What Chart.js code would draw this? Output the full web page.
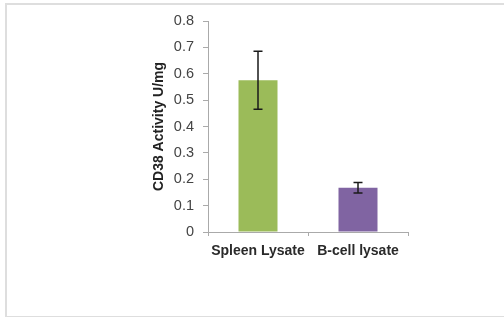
<!DOCTYPE html>
<html>
<head>
<meta charset="utf-8">
<script src="https://cdn.jsdelivr.net/npm/chart.js@4/dist/chart.umd.min.js"></script>
<style>
    html, body {margin: 0; padding: 0; background: #fff;}
    #wrap {position: relative; width: 504px; height: 317px; overflow: hidden;}
    #frame {position: absolute; left: 5px; top: 3px; width: 497px; height: 311px;
        border-left: 2px solid #dedede; border-top: 2px solid #dedede; border-bottom: 2px solid #dedede;}
    canvas {position: absolute; left: 0; top: 0;}
</style>
</head>
<body>
<div id="wrap">
    <div id="frame"></div>
    <canvas id="chart" width="504" height="317"></canvas>
</div>
<script>
// data
const categories = ['Spleen Lysate', 'B-cell lysate'];
const activity = [0.575, 0.168];
const errors = [0.11, 0.02];
const barColors = ['#9BBB59', '#8064A2'];
const yTicks = [0, 0.1, 0.2, 0.3, 0.4, 0.5, 0.6, 0.7, 0.8];

// draw the +/- error whiskers through the y scale
const errorBars = {
    id: 'errorBars',
    afterDatasetsDraw(chart) {
        const ctx = chart.ctx;
        const y = chart.scales.y;
        const meta = chart.getDatasetMeta(0);
        ctx.save();
        ctx.strokeStyle = '#1a1a1a';
        ctx.lineWidth = 1.5;
        meta.data.forEach((bar, i) => {
            const x = bar.x;
            const top = y.getPixelForValue(activity[i] + errors[i]);
            const bottom = y.getPixelForValue(activity[i] - errors[i]);
            ctx.beginPath();
            ctx.moveTo(x, top);
            ctx.lineTo(x, bottom);
            ctx.moveTo(x - 4.5, top);
            ctx.lineTo(x + 4.5, top);
            ctx.moveTo(x - 4.5, bottom);
            ctx.lineTo(x + 4.5, bottom);
            ctx.stroke();
        });
        ctx.restore();
    }
};

new Chart(document.getElementById('chart').getContext('2d'), {
    type: 'bar',
    data: {
        labels: categories,
        datasets: [{
            data: activity,
            backgroundColor: barColors,
            borderWidth: 0,
            categoryPercentage: 1,
            barPercentage: 0.39
        }]
    },
    options: {
        responsive: false,
        animation: false,
        layout: {padding: {left: 148, right: 96, top: 21, bottom: 0}},
        plugins: {legend: {display: false}, tooltip: {enabled: false}},
        scales: {
            x: {
                afterFit: (s) => { s.height = 85; },
                grid: {display: true, drawOnChartArea: false, offset: true, tickLength: 4, color: '#aaa'},
                border: {color: '#aaa', width: 1},
                ticks: {color: '#2a2a2a', padding: 7, font: {family: 'Liberation Sans, Arial', size: 14, weight: 'bold'}}
            },
            y: {
                min: 0,
                max: 0.8,
                afterFit: (s) => { s.width = 60; },
                afterBuildTicks: (s) => { s.ticks = yTicks.map(v => ({value: v})); },
                grid: {display: true, drawOnChartArea: false, tickLength: 5, color: '#aaa'},
                border: {color: '#aaa', width: 1},
                ticks: {
                    color: '#444',
                    padding: 9,
                    font: {family: 'Liberation Sans, Arial', size: 14.5},
                    callback: (v) => v === 0 ? '0' : v.toFixed(1)
                },
                title: {
                    display: true,
                    text: 'CD38 Activity U/mg',
                    color: '#222',
                    padding: {top: 3, bottom: 0},
                    font: {family: 'Liberation Sans, Arial', size: 14, weight: 'bold'}
                }
            }
        }
    },
    plugins: [errorBars]
});
</script>
</body>
</html>
